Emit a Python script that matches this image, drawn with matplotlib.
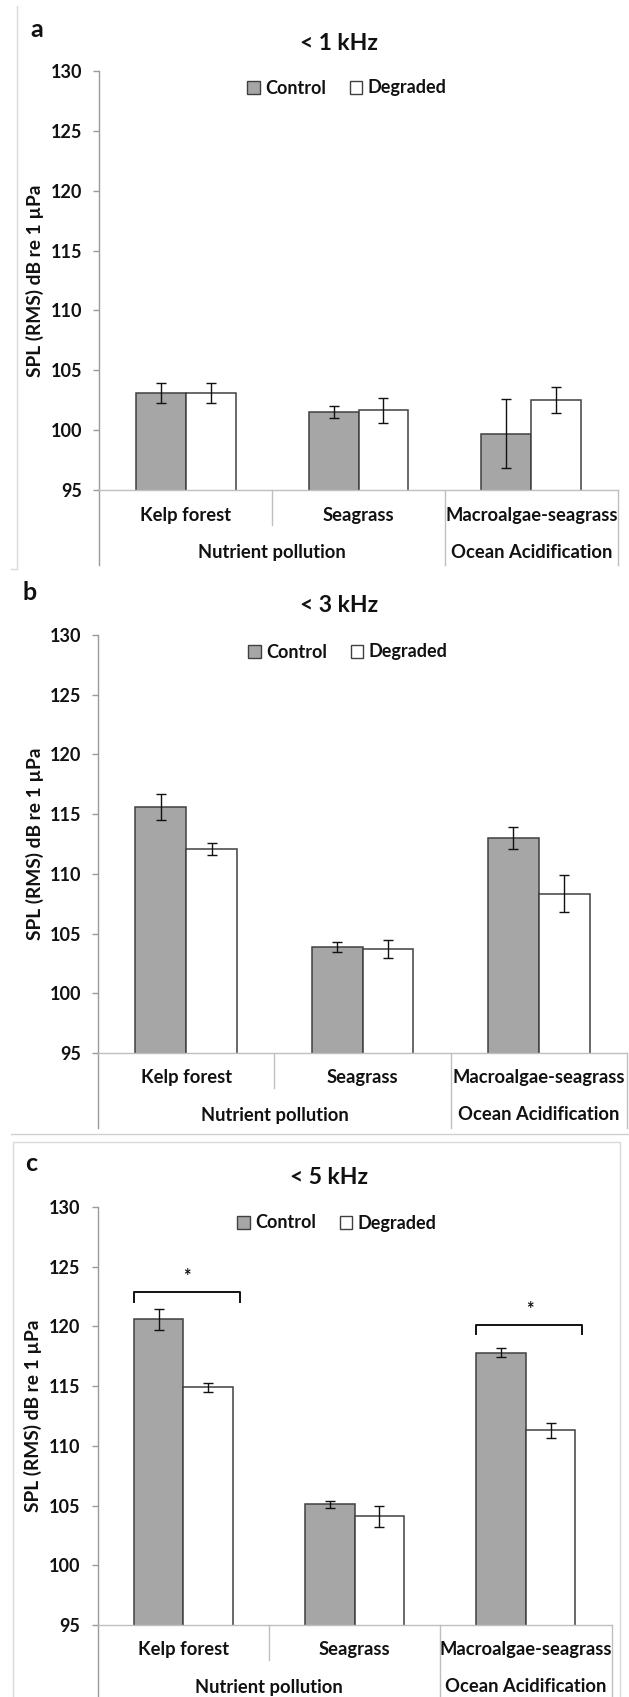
import matplotlib.pyplot as plt
import matplotlib.transforms as mtransforms
from matplotlib.lines import Line2D
from matplotlib.patches import Patch
import numpy as np

plt.rcParams['font.family'] = ['Lato', 'DejaVu Sans']
plt.rcParams['font.weight'] = 'bold'

categories = ['Kelp forest', 'Seagrass', 'Macroalgae-seagrass']
groups = ['Nutrient pollution', 'Ocean Acidification']
group_centers = [0.5, 2.0]

# mean SPL and error per habitat, control vs degraded
control_1k = [103.1, 101.55, 99.7]
control_1k_err = [0.8, 0.5, 2.9]
degraded_1k = [103.1, 101.65, 102.5]
degraded_1k_err = [0.8, 1.05, 1.1]

control_3k = [115.6, 103.9, 113.0]
control_3k_err = [1.1, 0.42, 0.9]
degraded_3k = [112.1, 103.7, 108.35]
degraded_3k_err = [0.5, 0.75, 1.55]

control_5k = [120.6, 105.1, 117.8]
control_5k_err = [0.9, 0.3, 0.38]
degraded_5k = [114.9, 104.1, 111.3]
degraded_5k_err = [0.37, 0.86, 0.65]

# significant pairs in the < 5 kHz band: (category index, bracket height)
sig_5k = [(0, 122.85), (2, 120.15)]

yticks = [95, 100, 105, 110, 115, 120, 125, 130]

W, H = 629, 1697
TXT = '#111111'
GRID = '#bfbfbf'


def fx(x):
    return x / W


def fy(y):
    return 1 - y / H


def fig_line(fig, xs, ys, color='#d9d9d9', lw=1.0):
    fig.add_artist(Line2D([fx(x) for x in xs], [fy(y) for y in ys],
                          transform=fig.transFigure, color=color, lw=lw))


def panel(fig, box, letter, letter_pos, title, title_pos, legend_pos,
          control, control_err, degraded, degraded_err, ylabel_x, sig=None):
    left, right, top, bottom = box
    ax = fig.add_axes([fx(left), fy(bottom), (right - left) / W, (bottom - top) / H])
    x = np.arange(len(categories))
    bw = 0.289
    ax.bar(x - bw / 2, control, bw, color='#a6a6a6', edgecolor='#404040', lw=1.1, zorder=2)
    ax.bar(x + bw / 2, degraded, bw, color='white', edgecolor='#404040', lw=1.1, zorder=2)
    ax.errorbar(x - bw / 2, control, yerr=control_err, fmt='none', ecolor='#111111',
                elinewidth=1, capsize=3.5, capthick=1, zorder=3)
    ax.errorbar(x + bw / 2, degraded, yerr=degraded_err, fmt='none', ecolor='#111111',
                elinewidth=1, capsize=3.5, capthick=1, zorder=3)

    ax.set_xlim(-0.5, 2.5)
    ax.set_ylim(95, 130)
    ax.set_yticks(yticks)
    ax.set_yticklabels([str(t) for t in yticks], fontsize=13, color=TXT, fontweight='bold')
    ax.tick_params(axis='y', length=4.3, width=1, color='#9a9a9a', pad=8)
    ax.set_xticks([])
    for s in ['top', 'right']:
        ax.spines[s].set_visible(False)
    ax.spines['left'].set_color('#9a9a9a')
    ax.spines['bottom'].set_color(GRID)
    ax.spines['left'].set_linewidth(1)
    ax.spines['bottom'].set_linewidth(1)

    # two-level category axis below the plot
    h_px = bottom - top
    short = -35 / h_px
    full = -75 / h_px
    tr = mtransforms.blended_transform_factory(ax.transData, ax.transAxes)
    ax.plot([-0.5, -0.5], [0, full], transform=tr, color='#9a9a9a', lw=1, clip_on=False)
    ax.plot([0.5, 0.5], [0, short], transform=tr, color=GRID, lw=1, clip_on=False)
    ax.plot([1.5, 1.5], [0, full], transform=tr, color=GRID, lw=1, clip_on=False)
    ax.plot([2.5, 2.5], [0, full], transform=tr, color=GRID, lw=1, clip_on=False)
    for i, c in enumerate(categories):
        ax.text(i, -25 / h_px, c, transform=tr, ha='center', va='center',
                fontsize=13.2, color=TXT, fontweight='bold')
    for g, gx in zip(groups, group_centers):
        ax.text(gx, -62 / h_px, g, transform=tr, ha='center', va='center',
                fontsize=13.2, color=TXT, fontweight='bold')

    if sig:
        for i, yb in sig:
            xl, xr = i - 0.29, i + 0.33
            ax.plot([xl, xl, xr, xr], [yb - 0.8, yb, yb, yb - 0.8], color='#111111',
                    lw=1.4, zorder=4)
            ax.text((xl + xr) / 2, yb + 1.3, '*', ha='center', va='center',
                    fontsize=13, color=TXT, fontweight='bold')

    handles = [Patch(facecolor='#a6a6a6', edgecolor='#404040', label='Control'),
               Patch(facecolor='white', edgecolor='#404040', label='Degraded')]
    ax.legend(handles=handles, ncol=2, frameon=False, loc='center',
              bbox_to_anchor=(fx(legend_pos[0]), fy(legend_pos[1])),
              bbox_transform=fig.transFigure, prop={'size': 13, 'weight': 'bold'},
              handlelength=0.7, handleheight=0.7, handletextpad=0.3,
              columnspacing=1.3, labelcolor=TXT)

    fig.text(fx(title_pos[0]), fy(title_pos[1]), title, ha='center', va='center',
             fontsize=16.5, fontweight='bold', color=TXT)
    fig.text(fx(letter_pos[0]), fy(letter_pos[1]), letter, ha='left', va='baseline',
             fontsize=18, fontweight='bold', color=TXT)
    fig.text(fx(ylabel_x), fy((top + bottom) / 2), 'SPL (RMS) dB re 1 µPa', rotation=90,
             ha='center', va='center', fontsize=13.8, fontweight='bold', color=TXT)
    return ax


fig = plt.figure(figsize=(6.29, 16.97), dpi=100)

panel(fig, (99.3, 617.7, 71, 490), 'a', (30, 37), '< 1 kHz', (339, 43), (347, 88),
      control_1k, control_1k_err, degraded_1k, degraded_1k_err, 35)
panel(fig, (98.3, 626.7, 635, 1053), 'b', (23, 600), '< 3 kHz', (339, 606), (348, 652),
      control_3k, control_3k_err, degraded_3k, degraded_3k_err, 35)
panel(fig, (97.7, 611.6, 1207, 1625), 'c', (25, 1171), '< 5 kHz', (329, 1177), (337, 1223),
      control_5k, control_5k_err, degraded_5k, degraded_5k_err, 33, sig=sig_5k)

# light frame lines separating the panels
fig_line(fig, [17, 17, 11], [6, 569, 569])
fig_line(fig, [11, 629], [1134, 1134], color='#cfcfcf')
fig_line(fig, [12.7, 12.7, 620, 620], [1700, 1142, 1142, 1700])

fig.savefig('out.png', dpi=100)
